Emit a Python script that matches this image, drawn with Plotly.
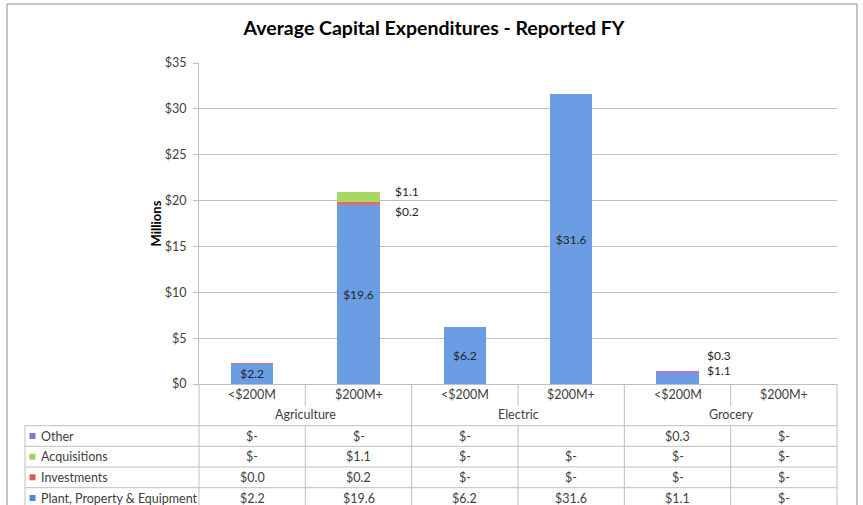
import plotly.graph_objects as go

# ---------------- data ----------------
groups = ["Agriculture", "Agriculture", "Electric", "Electric", "Grocery", "Grocery"]
sizes = ["<$200M", "$200M+", "<$200M", "$200M+", "<$200M", "$200M+"]
group_names = ["Agriculture", "Electric", "Grocery"]

ppe = [2.2, 19.6, 6.2, 31.6, 1.1, 0.0]
investments = [0.04, 0.2, 0.0, 0.0, 0.0, 0.0]
acquisitions = [0.0, 1.1, 0.0, 0.0, 0.0, 0.0]
other = [0.0, 0.0, 0.0, None, 0.3, 0.0]

series_names = ["Plant, Property & Equipment", "Investments", "Acquisitions", "Other"]
series_values = [ppe, investments, acquisitions, other]
series_colors = ["#6a9de4", "#de6f70", "#a9d862", "#9c84d0"]
key_colors = ["#4f86d8", "#e05858", "#9fd456", "#8f72c8"]

y_ticks = [0, 5, 10, 15, 20, 25, 30, 35]

# ---------------- geometry helpers (pixels -> paper) ----------------
W, H = 863, 505
L, R, T, B = 199, 837, 63, 384


def px_x(p):
    return (p - L) / (R - L)


def px_y(p):
    return (B - p) / (B - T)


def fmt(v):
    if v is None:
        return ""
    if v == 0:
        return "$-"
    return "${:.1f}".format(v)


def stack_top(i, upto):
    s = 0
    for vals in series_values[:upto + 1]:
        v = vals[i]
        s += 0 if v is None else v
    return s


TXT = "#404040"
GRID = "#bfbfbf"
FONT = "Lato"
FS = 12.5

xs = list(range(len(sizes)))
fig = go.Figure()

for name, vals, col in zip(series_names, series_values, series_colors):
    if name == series_names[0]:
        labels = [fmt(v) if (v is not None and v >= 2) else "" for v in vals]
    else:
        labels = ["" for _ in vals]
    fig.add_trace(go.Bar(
        x=xs, y=[0 if v is None else v for v in vals], name=name,
        marker=dict(color=col, line=dict(width=0)),
        text=labels, textposition="inside", insidetextanchor="middle",
        constraintext="none",
        textfont=dict(family=FONT, size=12, color="#262626"),
        hoverinfo="skip",
    ))

# side labels for small segments: (category index, series index, xshift, yshift)
side = [
    (1, 2, 34, 1),
    (1, 1, 34, -9),
    (4, 3, 27, 16),
    (4, 0, 27, 1),
]
ann = []
for i, si, xsh, ysh in side:
    ann.append(dict(x=i, y=stack_top(i, 3) if i == 4 else stack_top(i, si),
                    xref="x", yref="y", text=fmt(series_values[si][i]), showarrow=False,
                    xanchor="left", yanchor="middle", xshift=xsh, yshift=ysh,
                    font=dict(family=FONT, size=12, color="#262626")))

shapes = []
line = dict(color=GRID, width=1)
y_bot = px_y(512)
n = len(sizes)
# verticals
for k in range(n + 1):
    xk = k / n
    if k % 2 == 0:
        shapes.append(dict(type="line", xref="paper", yref="paper", x0=xk, x1=xk,
                           y0=0, y1=y_bot, line=line))
    else:
        shapes.append(dict(type="line", xref="paper", yref="paper", x0=xk, x1=xk,
                           y0=0, y1=px_y(406), line=line))
        shapes.append(dict(type="line", xref="paper", yref="paper", x0=xk, x1=xk,
                           y0=px_y(425.7), y1=y_bot, line=line))
shapes.append(dict(type="line", xref="paper", yref="paper", x0=px_x(25), x1=px_x(25),
                   y0=px_y(425.7), y1=y_bot, line=line))
# horizontals
row_lines = [425.7, 446.3, 467.0, 487.7]
for ry in row_lines:
    shapes.append(dict(type="line", xref="paper", yref="paper", x0=px_x(25), x1=1,
                       y0=px_y(ry), y1=px_y(ry), line=line))
# outer chart border
shapes.append(dict(type="rect", xref="paper", yref="paper", x0=px_x(7), x1=px_x(857),
                   y0=px_y(520), y1=px_y(4), line=dict(color="#8c8c8c", width=1)))

# category labels
for i, s in enumerate(sizes):
    ann.append(dict(x=(i + 0.5) / n, y=px_y(395), xref="paper", yref="paper", text=s,
                    showarrow=False, xanchor="center", yanchor="middle",
                    font=dict(family=FONT, size=FS, color=TXT)))
for gname in group_names:
    idx = [i for i, gg in enumerate(groups) if gg == gname]
    cx = (min(idx) + max(idx) + 1) / 2 / n
    ann.append(dict(x=cx, y=px_y(414.5), xref="paper", yref="paper", text=gname,
                    showarrow=False, xanchor="center", yanchor="middle",
                    font=dict(family=FONT, size=FS, color=TXT)))

# table rows (top to bottom: reverse stack order)
row_centers = [436.0, 456.7, 477.3, 498.0]
order = list(range(len(series_names)))[::-1]
for r, si in enumerate(order):
    yc = px_y(row_centers[r])
    shapes.append(dict(type="rect", xref="paper", yref="paper",
                       x0=px_x(29.5), x1=px_x(35.5),
                       y0=yc - 3 / (B - T), y1=yc + 3 / (B - T),
                       fillcolor=key_colors[si], line=dict(width=0)))
    ann.append(dict(x=px_x(39), y=yc, xref="paper", yref="paper", text=series_names[si],
                    showarrow=False, xanchor="left", yanchor="middle",
                    font=dict(family=FONT, size=FS, color=TXT)))
    for i, v in enumerate(series_values[si]):
        ann.append(dict(x=(i + 0.5) / n, y=yc, xref="paper", yref="paper", text=fmt(v),
                        showarrow=False, xanchor="center", yanchor="middle",
                        font=dict(family=FONT, size=FS, color=TXT)))

fig.update_layout(
    width=W, height=H,
    margin=dict(l=L, r=W - R, t=T, b=H - B),
    paper_bgcolor="white", plot_bgcolor="white",
    barmode="stack", bargap=0.6, showlegend=False,
    font=dict(family=FONT, color=TXT),
    title=dict(text="<b>Average Capital Expenditures - Reported FY</b>",
               x=434 / W, xanchor="center", xref="container",
               y=1 - 28 / H, yanchor="middle", yref="container",
               font=dict(family=FONT, size=19.5, color="#000000")),
    xaxis=dict(range=[-0.5, n - 0.5], showticklabels=False, showgrid=False,
               zeroline=False, showline=True, linecolor=GRID, linewidth=1, ticks=""),
    yaxis=dict(range=[0, 35], tickvals=y_ticks, ticktext=["${}".format(v) for v in y_ticks],
               showgrid=True, gridcolor=GRID, gridwidth=1, zeroline=False,
               showline=True, linecolor=GRID, linewidth=1, ticks="outside", ticklen=5,
               tickcolor=GRID, ticklabelstandoff=4,
               tickfont=dict(family=FONT, size=FS, color=TXT),
               title=dict(text="<b>Millions</b>", standoff=0,
                          font=dict(family=FONT, size=13, color="#000000"))),
    shapes=shapes, annotations=ann,
)

fig.write_html("out.html", config={"displayModeBar": False},
               post_script="document.body.style.margin='0';document.body.style.overflow='hidden';")
